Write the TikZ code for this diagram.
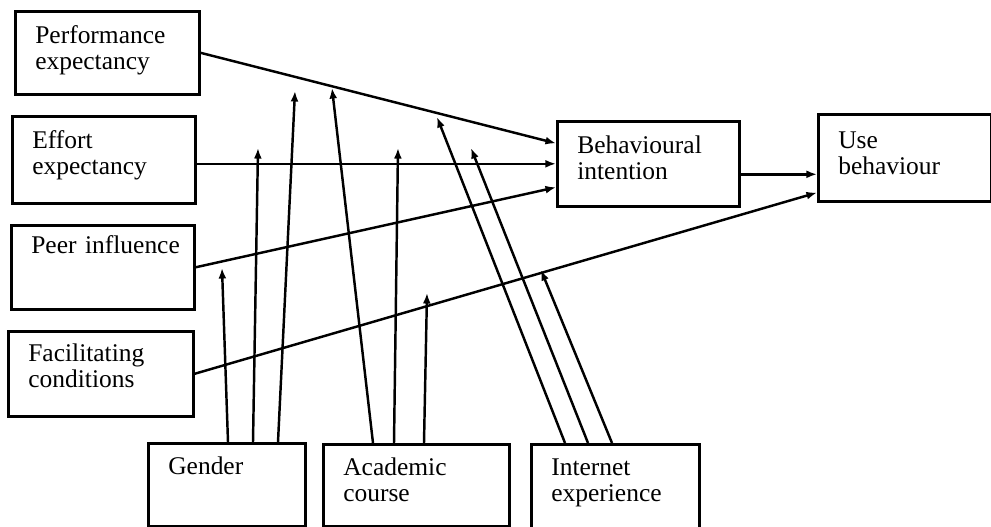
\documentclass[tikz,border=0pt]{standalone}
\usepackage{fontspec}
\setmainfont{Liberation Serif}
\usetikzlibrary{arrows.meta}

\begin{document}
\begin{tikzpicture}[x=0.02cm,y=-0.02cm,>={Latex[length=6pt,width=4.5pt]},
    box/.style={draw,line width=1.5pt,anchor=north west,align=left,
        inner xsep=0.4cm,inner ysep=0pt,text height=0.64cm,
        font=\fontsize{14.5}{15}\selectfont},
    link/.style={->,line width=1.4pt}]

\useasboundingbox (0,0) rectangle (991,527);

        % draw the factors on the left
        \node[box,text width=2.88cm,text depth=1.02cm] (perf) at (14,10) {Performance\\expectancy};
        \node[box,text width=2.86cm,text depth=1.10cm] (effort) at (11,115) {Effort\\expectancy};
        \node[box,text width=2.86cm,text height=0.56cm,text depth=1.12cm] (peer) at (10,224) {\mbox{Peer influence}};
        \node[box,text width=2.90cm,text height=0.60cm,text depth=1.10cm] (facil) at (7,330) {Facilitating\\conditions};

        % the moderators at the bottom
        \node[box,text width=2.34cm,text height=0.62cm,text depth=1.04cm] (gender) at (147,442) {Gender};
        \node[box,text width=2.92cm,text height=0.62cm,text depth=1.02cm] (course) at (322,443) {Academic\\course};
        \node[box,text width=2.56cm,text height=0.62cm,text depth=1.16cm] (internet) at (530,443) {Internet\\experience};

        % intention and behaviour
        \node[box,text width=2.84cm,text depth=1.06cm] (bi) at (556,120) {Behavioural\\intention};
        \node[box,text width=2.66cm,text height=0.68cm,text depth=1.06cm] (use) at (817,113) {Use\\behaviour};

        % the paths into intention and behaviour
        \draw[link] (perf.east) -- ([yshift=0.41cm]bi.west);
        \draw[link] (effort.east |- bi.west) -- (bi.west);
        \draw[link] (peer.east) -- ([yshift=-0.47cm]bi.west);
        \coordinate (biout) at ([yshift=-0.21cm]bi.east);
        \draw[link] (biout) -- (biout -| use.west);
        \draw[link] (facil.east) -- ([yshift=0.2cm]use.south west);

        % where the moderating arrows stop
        \coordinate (g1) at (222,268);
        \coordinate (g2) at (258,148);
        \coordinate (g3) at (295,91);
        \coordinate (c1) at (332,88);
        \coordinate (c2) at (398,148);
        \coordinate (c3) at (427,293);
        \coordinate (i1) at (437,117);
        \coordinate (i2) at (471,148);
        \coordinate (i3) at (541,270);

        % the moderating arrows
        \draw[link] (228,0 |- gender.north) -- (g1);
        \draw[link] (253,0 |- gender.north) -- (g2);
        \draw[link] (278,0 |- gender.north) -- (g3);
        \draw[link] (373,0 |- course.north) -- (c1);
        \draw[link] (394,0 |- course.north) -- (c2);
        \draw[link] (424,0 |- course.north) -- (c3);
        \draw[link] (565,0 |- internet.north) -- (i1);
        \draw[link] (588,0 |- internet.north) -- (i2);
        \draw[link] (612,0 |- internet.north) -- (i3);
\end{tikzpicture}
\end{document}
